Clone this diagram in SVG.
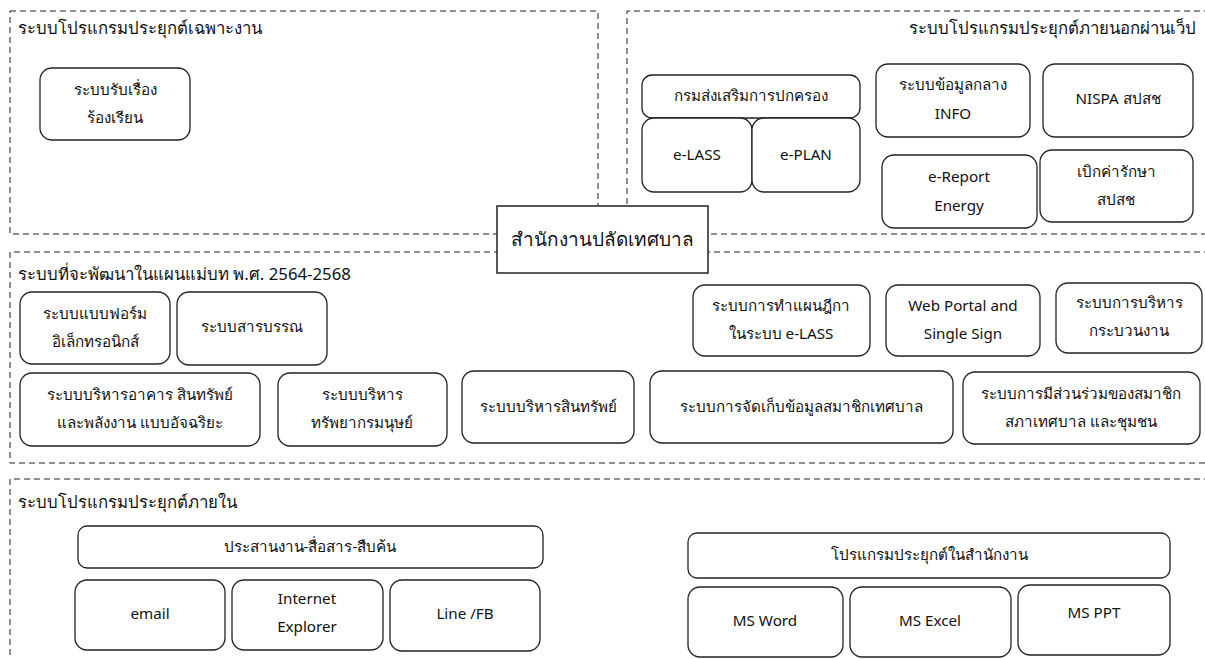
<svg xmlns="http://www.w3.org/2000/svg" width="1205" height="659" viewBox="0 0 1205 659">
<style>
text{font-family:"Noto Sans","Open Sans","DejaVu Sans",sans-serif;fill:#111}
.t{font-size:16.8px}
.n{font-size:15.2px;text-anchor:middle}
.box{fill:#fff;stroke:#222;stroke-width:1.3}
.sec{fill:none;stroke:#222;stroke-width:1;stroke-dasharray:6 4}
.c{font-size:19px;text-anchor:middle}
</style>
<rect width="1205" height="659" fill="#fff"/>
<g id="connectors">
<path class="sec" d="M10 11 H598 V234 H10 Z"/>
<path class="sec" d="M1210 11 H627 V234 H1210"/>
<path class="sec" d="M1210 252 H10 V463 H1210"/>
<path class="sec" d="M1210 479 H10 V665"/>
</g>
<g id="sec1"><text class="t" x="18" y="34">ระบบโปรแกรมประยุกต์เฉพาะงาน</text></g>
<g id="sec2"><text class="t" x="1196" y="34" text-anchor="end">ระบบโปรแกรมประยุกต์ภายนอกผ่านเว็ป</text></g>
<g id="sec3"><text class="t" x="18" y="280">ระบบที่จะพัฒนาในแผนแม่บท พ.ศ. 2564-2568</text></g>
<g id="sec4"><text class="t" x="18" y="508">ระบบโปรแกรมประยุกต์ภายใน</text></g>

<g id="n-complaint"><rect class="box" x="40" y="68" width="150" height="72" rx="12"/><text class="n" x="115" y="95">ระบบรับเรื่อง</text><text class="n" x="115" y="123">ร้องเรียน</text></g>

<g id="n-dla"><rect class="box" x="642" y="75" width="218" height="43" rx="10"/><text class="n" x="751" y="101">กรมส่งเสริมการปกครอง</text></g>
<g id="n-elass"><rect class="box" x="642" y="118" width="110" height="74" rx="12"/><text class="n" x="697" y="160">e-LASS</text></g>
<g id="n-eplan"><rect class="box" x="752" y="118" width="108" height="74" rx="12"/><text class="n" x="806" y="160">e-PLAN</text></g>
<g id="n-info"><rect class="box" x="876" y="64" width="154" height="73" rx="12"/><text class="n" x="953" y="90">ระบบข้อมูลกลาง</text><text class="n" x="953" y="119">INFO</text></g>
<g id="n-nispa"><rect class="box" x="1043" y="64" width="150" height="73" rx="12"/><text class="n" x="1118" y="104">NISPA สปสช</text></g>
<g id="n-ereport"><rect class="box" x="882" y="155" width="155" height="73" rx="12"/><text class="n" x="959" y="182">e-Report</text><text class="n" x="959" y="211">Energy</text></g>
<g id="n-medical"><rect class="box" x="1040" y="150" width="153" height="72" rx="12"/><text class="n" x="1116" y="177">เบิกค่ารักษา</text><text class="n" x="1116" y="205">สปสช</text></g>

<g id="n-center"><rect x="497" y="206" width="211" height="67" fill="#fff" stroke="#222" stroke-width="1.5"/><text class="c" x="602" y="246">สำนักงานปลัดเทศบาล</text></g>

<g id="n-eform"><rect class="box" x="20" y="292" width="150" height="72" rx="12"/><text class="n" x="95" y="319">ระบบแบบฟอร์ม</text><text class="n" x="95" y="347">อิเล็กทรอนิกส์</text></g>
<g id="n-saraban"><rect class="box" x="177" y="292" width="150" height="73" rx="12"/><text class="n" x="252" y="332">ระบบสารบรรณ</text></g>
<g id="n-building"><rect class="box" x="20" y="373" width="240" height="73" rx="12"/><text class="n" x="140" y="400">ระบบบริหารอาคาร สินทรัพย์</text><text class="n" x="140" y="428">และพลังงาน แบบอัจฉริยะ</text></g>
<g id="n-hr"><rect class="box" x="278" y="373" width="169" height="73" rx="12"/><text class="n" x="362" y="400">ระบบบริหาร</text><text class="n" x="362" y="428">ทรัพยากรมนุษย์</text></g>
<g id="n-asset"><rect class="box" x="462" y="371" width="172" height="72" rx="12"/><text class="n" x="548" y="412">ระบบบริหารสินทรัพย์</text></g>
<g id="n-dika"><rect class="box" x="693" y="285" width="177" height="71" rx="12"/><text class="n" x="781" y="311">ระบบการทำแผนฎีกา</text><text class="n" x="781" y="339">ในระบบ e-LASS</text></g>
<g id="n-portal"><rect class="box" x="886" y="285" width="154" height="71" rx="12"/><text class="n" x="963" y="311">Web Portal and</text><text class="n" x="963" y="339">Single Sign</text></g>
<g id="n-process"><rect class="box" x="1056" y="283" width="146" height="70" rx="12"/><text class="n" x="1129" y="308">ระบบการบริหาร</text><text class="n" x="1129" y="336">กระบวนงาน</text></g>
<g id="n-member"><rect class="box" x="650" y="371" width="303" height="72" rx="12"/><text class="n" x="801" y="412">ระบบการจัดเก็บข้อมูลสมาชิกเทศบาล</text></g>
<g id="n-participate"><rect class="box" x="963" y="372" width="237" height="72" rx="12"/><text class="n" x="1081" y="399">ระบบการมีส่วนร่วมของสมาชิก</text><text class="n" x="1081" y="427">สภาเทศบาล และชุมชน</text></g>

<g id="n-coord"><rect class="box" x="78" y="526" width="465" height="42" rx="9"/><text class="n" x="310" y="552">ประสานงาน-สื่อสาร-สืบค้น</text></g>
<g id="n-email"><rect class="box" x="75" y="580" width="150" height="70" rx="12"/><text class="n" x="150" y="619">email</text></g>
<g id="n-ie"><rect class="box" x="232" y="580" width="151" height="70" rx="12"/><text class="n" x="307" y="604">Internet</text><text class="n" x="307" y="632">Explorer</text></g>
<g id="n-line"><rect class="box" x="390" y="580" width="150" height="71" rx="12"/><text class="n" x="465" y="619">Line /FB</text></g>

<g id="n-office"><rect class="box" x="688" y="533" width="482" height="45" rx="9"/><text class="n" x="929" y="560">โปรแกรมประยุกต์ในสำนักงาน</text></g>
<g id="n-word"><rect class="box" x="688" y="587" width="155" height="70" rx="12"/><text class="n" x="765" y="626">MS Word</text></g>
<g id="n-excel"><rect class="box" x="850" y="587" width="161" height="70" rx="12"/><text class="n" x="930" y="626">MS Excel</text></g>
<g id="n-ppt"><rect class="box" x="1018" y="585" width="152" height="70" rx="12"/><text class="n" x="1094" y="618">MS PPT</text></g>
</svg>
